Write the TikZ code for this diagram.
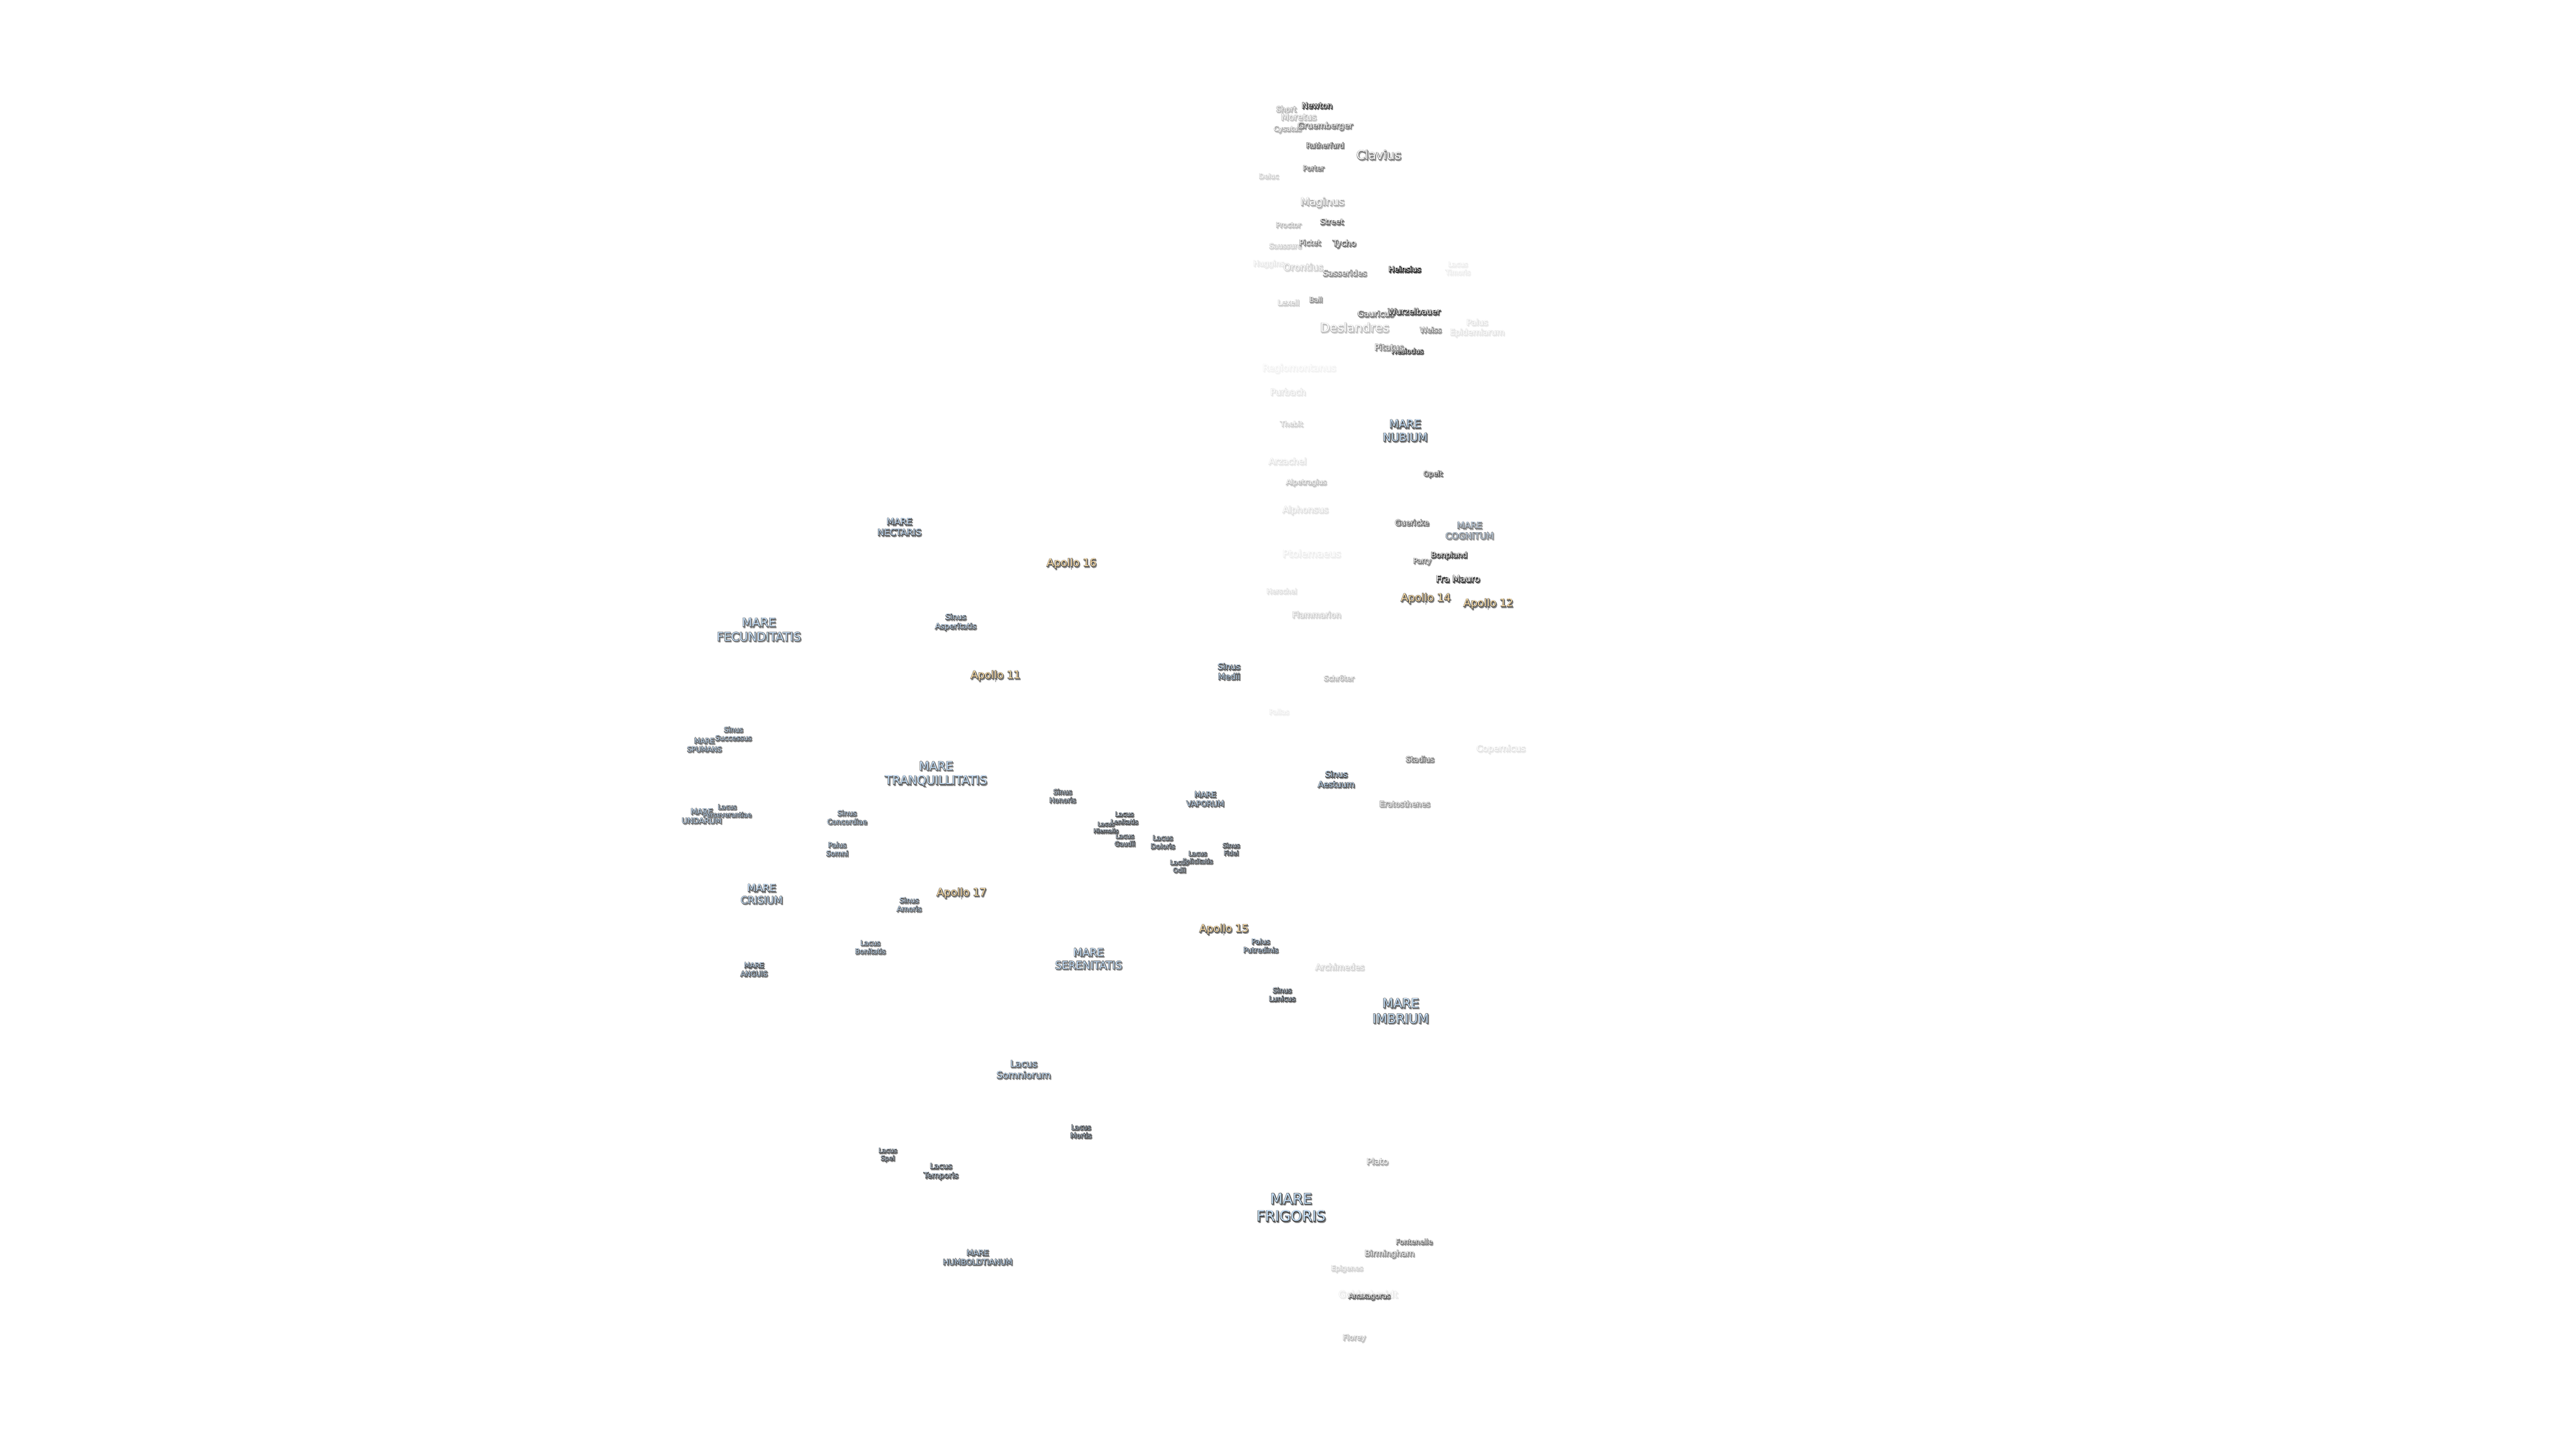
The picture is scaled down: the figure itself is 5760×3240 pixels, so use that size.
\documentclass[tikz,border=0pt]{standalone}
\usepackage{fontspec}
\setmainfont{DejaVu Sans}
\definecolor{sea}{HTML}{C4DEF8}
\definecolor{seagrey}{HTML}{BFD0E2}
\definecolor{apo}{HTML}{FFDFA8}
\font\lbmeasure="DejaVu Sans" at 10pt
\newsavebox\lbA
\newsavebox\lbB
\newdimen\lbW
\makeatletter
\let\lbstrip\strip@pt
\makeatother
% body of a label: one or two centred lines
\newcommand\lbbody[2]{\begin{tabular}{@{}c@{}}\if\relax\detokenize{#2}\relax #1\else #1\\#2\fi\end{tabular}}
% \lb{name}{x}{y}{width}{base}{tone}{line1}{line2}
\newcommand\lb[8]{%
  \sbox\lbA{\lbmeasure #7}%
  \sbox\lbB{\lbmeasure #8}%
  \lbW=\wd\lbA
  \ifdim\wd\lbB>\lbW \lbW=\wd\lbB\fi
  \edef\lbwidth{\lbstrip\lbW}%
  \pgfmathsetmacro\lbsize{10*(#4-2)*0.2845/\lbwidth}%
  \pgfmathsetmacro\lbleading{1.2*\lbsize}%
  \pgfmathsetmacro\lbedge{1-#6/100}%
  \pgfmathsetmacro\lbshad{1-0.65*#6/100}%
  \node[lab] (#1-s) at ({#2+2},{#3+5.5}) {\fontsize{\lbsize}{\lbleading}\selectfont
    \color{black!\the\numexpr(#6*65)/100\relax}\special{pdf:literal direct \lbshad\space G 0.55 w 2 Tr}%
    \lbbody{#7}{#8}\special{pdf:literal direct 0 Tr}};
  \node[lab] (#1-e) at (#2,#3+3) {\fontsize{\lbsize}{\lbleading}\selectfont
    \color{black!#6}\special{pdf:literal direct \lbedge\space G 0.5 w 2 Tr}%
    \lbbody{#7}{#8}\special{pdf:literal direct 0 Tr}};
  \node[lab] (#1) at (#2,#3+3) {\fontsize{\lbsize}{\lbleading}\selectfont
    \color{#5}\lbbody{#7}{#8}};
}
% landing site: leader and dot below the label
\newcommand\site[4]{%
  \coordinate (#1-dot) at (#2,#3+16);
  \draw[sitemark] (#2,#3+8) -- (#1-dot);
  \lb{#1}{#2}{#3}{#4}{apo}{75}{Apollo #1}{}%
}
\tikzset{
  lab/.style={inner sep=0pt,outer sep=0pt},
  sitemark/.style={draw=black!55,line width=0.3pt}
}
\begin{document}
\begin{tikzpicture}[x=0.01cm,y=-0.01cm]
\fill[white] (0,0) rectangle (5760,3240);
\useasboundingbox (0,0) rectangle (5760,3240);
% faint craters first
\lb{goldschmidt}{3059}{2894}{134}{white}{10}{Goldschmidt}{}
\lb{timoris}{3260}{599}{57}{white}{8}{Lacus}{Timoris}
\lb{epidemiarum}{3303}{731}{124}{white}{12}{Palus}{Epidemiarum}
\lb{regiomontanus}{2905}{822}{166}{white}{6}{Regiomontanus}{}
\lb{purbach}{2880}{876}{81}{white}{12}{Purbach}{}
\lb{thebit}{2888}{947}{52}{white}{20}{Thebit}{}
\lb{arzachel}{2879}{1031}{86}{white}{12}{Arzachel}{}
\lb{alpetragius}{2921}{1077}{92}{white}{28}{Alpetragius}{}
\lb{alphonsus}{2919}{1139}{104}{white}{14}{Alphonsus}{}
\lb{ptolemaeus}{2933}{1238}{132}{white}{8}{Ptolemaeus}{}
\lb{herschel}{2866}{1321}{69}{white}{14}{Herschel}{}
\lb{flammarion}{2944}{1374}{111}{white}{22}{Flammarion}{}
\lb{pallas}{2860}{1591}{46}{white}{7}{Pallas}{}
\lb{copernicus}{3356}{1673}{111}{white}{12}{Copernicus}{}
\lb{schroter}{2994}{1516}{69}{white}{30}{Schröter}{}
\lb{huggins}{2837}{588}{71}{white}{10}{Huggins}{}
\lb{saussure}{2874}{549}{74}{white}{22}{Saussure}{}
\lb{deluc}{2837}{393}{46}{white}{20}{Deluc}{}
\lb{short}{2876}{243}{47}{white}{35}{Short}{}
\lb{moretus}{2904}{261}{81}{white}{30}{Moretus}{}
\lb{cysatus}{2879}{287}{64}{white}{35}{Cysatus}{}
\lb{newton}{2945}{235}{70}{white}{90}{Newton}{}
\lb{gruemberger}{2963}{280}{125}{white}{60}{Gruemberger}{}
\lb{rutherfurd}{2963}{324}{86}{white}{65}{Rutherfurd}{}
\lb{clavius}{3083}{347}{102}{white}{60}{Clavius}{}
\lb{porter}{2937}{375}{49}{white}{60}{Porter}{}
\lb{maginus}{2957}{451}{100}{white}{35}{Maginus}{}
\lb{street}{2978}{495}{54}{white}{65}{Street}{}
\lb{proctor}{2881}{502}{58}{white}{30}{Proctor}{}
\lb{pictet}{2929}{542}{50}{white}{55}{Pictet}{}
\lb{tycho}{3006}{543}{54}{white}{65}{Tycho}{}
\lb{orontius}{2914}{597}{91}{white}{22}{Orontius}{}
\lb{sasserides}{3007}{610}{100}{white}{50}{Sasserides}{}
\lb{heinsius}{3141}{601}{74}{white}{95}{Heinsius}{}
\lb{lexell}{2881}{676}{50}{white}{22}{Lexell}{}
\lb{ball}{2942}{669}{31}{white}{50}{Ball}{}
\lb{gauricus}{3076}{701}{83}{white}{60}{Gauricus}{}
\lb{wurzelbauer}{3162}{696}{119}{white}{85}{Wurzelbauer}{}
\lb{deslandres}{3029}{733}{156}{white}{30}{Deslandres}{}
\lb{weiss}{3199}{737}{50}{white}{50}{Weiss}{}
\lb{hesiodus}{3147}{784}{73}{white}{85}{Hesiodus}{}
\lb{pitatus}{3106}{776}{67}{white}{55}{Pitatus}{}
\lb{opelt}{3204}{1058}{45}{white}{70}{Opelt}{}
\lb{guericke}{3157}{1168}{78}{white}{65}{Guericke}{}
\lb{bonpland}{3240}{1240}{83}{white}{85}{Bonpland}{}
\lb{parry}{3180}{1253}{42}{white}{60}{Parry}{}
\lb{framauro}{3260}{1294}{100}{white}{85}{Fra Mauro}{}
\lb{stadius}{3175}{1697}{65}{white}{60}{Stadius}{}
\lb{eratosthenes}{3141}{1797}{115}{white}{45}{Eratosthenes}{}
\lb{archimedes}{2996}{2162}{111}{white}{20}{Archimedes}{}
\lb{plato}{3080}{2597}{50}{white}{40}{Plato}{}
\lb{fontenelle}{3162}{2776}{84}{white}{60}{Fontenelle}{}
\lb{birmingham}{3107}{2802}{113}{white}{50}{Birmingham}{}
\lb{epigenes}{3012}{2835}{73}{white}{20}{Epigenes}{}
\lb{anaxagoras}{3062}{2897}{95}{white}{70}{Anaxagoras}{}
\lb{florey}{3028}{2990}{53}{white}{30}{Florey}{}
% seas, bays, lakes
\lb{nubium}{3142}{963}{102}{sea}{75}{MARE}{NUBIUM}
\lb{cognitum}{3286}{1186}{110}{seagrey}{55}{MARE}{COGNITUM}
\lb{medii}{2748}{1501}{52}{sea}{75}{Sinus}{Medii}
\lb{aestuum}{2988}{1742}{84}{sea}{75}{Sinus}{Aestuum}
\lb{vaporum}{2695}{1786}{86}{sea}{75}{MARE}{VAPORUM}
\lb{fidei}{2753}{1898}{40}{seagrey}{75}{Sinus}{Fidei}
\lb{felicitatis}{2678}{1916}{69}{seagrey}{75}{Lacus}{Felicitatis}
\lb{odii}{2637}{1936}{43}{seagrey}{75}{Lacus}{Odii}
\lb{putredinis}{2819}{2114}{80}{sea}{75}{Palus}{Putredinis}
\lb{honoris}{2376}{1779}{61}{seagrey}{75}{Sinus}{Honoris}
\lb{lenitatis}{2514}{1828}{63}{seagrey}{75}{Lacus}{Lenitatis}
\lb{hiemalis}{2473}{1849}{57}{seagrey}{75}{Lacus}{Hiemalis}
\lb{gaudii}{2515}{1877}{48}{seagrey}{75}{Lacus}{Gaudii}
\lb{doloris}{2600}{1882}{56}{seagrey}{75}{Lacus}{Doloris}
\lb{nectaris}{2011}{1178}{100}{sea}{75}{MARE}{NECTARIS}
\lb{fecunditatis}{1697}{1408}{190}{sea}{70}{MARE}{FECUNDITATIS}
\lb{asperitatis}{2137}{1389}{94}{sea}{70}{Sinus}{Asperitatis}
\lb{successus}{1640}{1640}{83}{sea}{70}{Sinus}{Successus}
\lb{spumans}{1575}{1665}{79}{sea}{70}{MARE}{SPUMANS}
\lb{tranquillitatis}{2093}{1729}{230}{sea}{70}{MARE}{TRANQUILLITATIS}
\lb{undarum}{1569}{1824}{91}{sea}{70}{MARE}{UNDARUM}
\lb{perseverantiae}{1626}{1812}{110}{sea}{70}{Lacus}{Perseverantiae}
\lb{concordiae}{1894}{1827}{91}{sea}{70}{Sinus}{Concordiae}
\lb{somni}{1872}{1898}{51}{sea}{70}{Palus}{Somni}
\lb{crisium}{1703}{1999}{96}{sea}{70}{MARE}{CRISIUM}
\lb{amoris}{2033}{2022}{57}{sea}{70}{Sinus}{Amoris}
\lb{bonitatis}{1946}{2117}{70}{sea}{70}{Lacus}{Bonitatis}
\lb{serenitatis}{2434}{2144}{152}{sea}{70}{MARE}{SERENITATIS}
\lb{anguis}{1686}{2167}{62}{sea}{75}{MARE}{ANGUIS}
\lb{lunicus}{2867}{2223}{61}{seagrey}{80}{Sinus}{Lunicus}
\lb{imbrium}{3132}{2261}{128}{sea}{75}{MARE}{IMBRIUM}
\lb{somniorum}{2289}{2391}{123}{sea}{70}{Lacus}{Somniorum}
\lb{mortis}{2417}{2529}{49}{seagrey}{80}{Lacus}{Mortis}
\lb{spei}{1985}{2580}{43}{seagrey}{75}{Lacus}{Spei}
\lb{temporis}{2104}{2617}{79}{seagrey}{75}{Lacus}{Temporis}
\lb{humboldtianum}{2186}{2811}{157}{sea}{75}{MARE}{HUMBOLDTIANUM}
\lb{frigoris}{2887}{2701}{156}{sea}{80}{MARE}{FRIGORIS}
% Apollo sites
\site{14}{3188}{1336}{113}
\site{12}{3328}{1348}{113}
\site{15}{2737}{2076}{112}
\site{16}{2396}{1258}{113}
\site{11}{2226}{1509}{113}
\site{17}{2150}{1995}{113}
\end{tikzpicture}
\end{document}
